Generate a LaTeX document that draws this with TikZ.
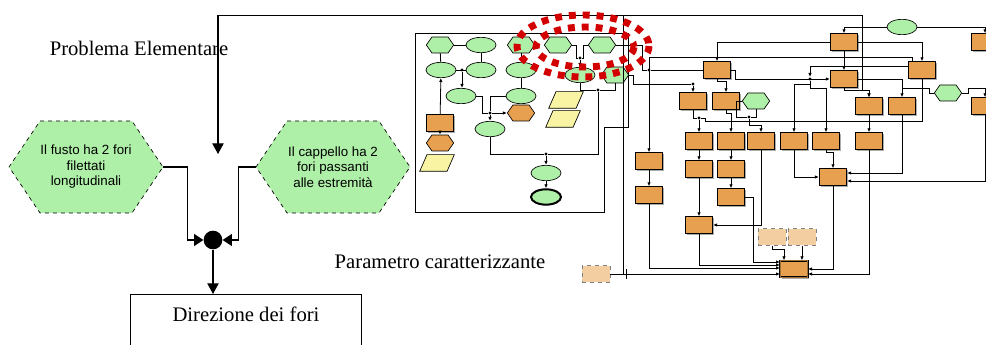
\documentclass[tikz,border=0pt]{standalone}
\usepackage{fontspec}
\setmainfont{Liberation Serif}
\newfontfamily\arialf{Liberation Sans}
\usetikzlibrary{shapes.geometric,shapes.symbols,arrows.meta,calc,shadows}
\definecolor{grnF}{RGB}{175,240,168}
\definecolor{orgF}{RGB}{230,160,80}
\definecolor{beigeF}{RGB}{242,206,160}
\definecolor{yelF}{RGB}{248,244,164}
\definecolor{redD}{RGB}{210,0,0}
\begin{document}
\begin{tikzpicture}[x=0.75pt,y=-0.75pt,
 ln/.style={draw=black,line width=0.6pt},
 ar/.style={ln,-{Latex[length=3pt,width=2.6pt]}},
 bigar/.style={line width=0.9pt,-{Triangle[length=8pt,width=8.5pt]}},
 sidear/.style={line width=0.9pt,-{Triangle[length=7pt,width=9pt]}},
 ob/.style={rectangle,draw=black,line width=0.6pt,fill=orgF,minimum width=20.5pt,minimum height=12.5pt,inner sep=0,drop shadow={shadow xshift=0.9pt,shadow yshift=-0.9pt,fill=gray!80,opacity=0.8}},
 gel/.style={ellipse,draw=black,line width=0.5pt,fill=grnF,minimum width=22.5pt,minimum height=11.5pt,inner sep=0},
 ghx/.style={signal,signal to=east and west,signal pointer angle=110,draw=black,line width=0.5pt,fill=grnF,minimum width=20.5pt,minimum height=12pt,inner sep=0},
 ohx/.style={ghx,fill=orgF},
 ypar/.style={trapezium,trapezium left angle=70,trapezium right angle=110,trapezium stretches=true,draw=black,line width=0.5pt,fill=yelF,minimum width=26pt,minimum height=12.5pt,inner sep=1pt},
 lbox/.style={rectangle,draw=gray,dashed,fill=beigeF,minimum width=21pt,minimum height=12.5pt,inner sep=0},
 jdot/.style={circle,fill=black,inner sep=0,minimum size=2.6pt},
 bighex/.style={signal,signal to=east and west,signal pointer angle=112,draw=black,dashed,line width=0.5pt,fill=grnF,minimum width=115.5pt,minimum height=69pt,inner sep=0,align=center,font=\arialf\fontsize{10}{11.6}\selectfont},
 serift/.style={font=\fontsize{15.5}{18}\selectfont,inner sep=0}
]
\useasboundingbox (0,0) rectangle (986,345);

% ---------- left part ----------
\node[serift] (pe) at (139,48) {Problema Elementare};
\node[serift] (pc) at (440,262) {Parametro caratterizzante};
\node[bighex] (hexL) at (86,167) {Il fusto ha 2 fori\\filettati\\longitudinali};
\node[bighex] (hexR) at (333,167) {Il cappello ha 2\\fori passanti\\alle estremità};
\node[circle,fill=black,minimum size=14pt,inner sep=0] (jc) at (213,240) {};
\node[draw,line width=0.7pt,anchor=north west,minimum width=173.25pt,minimum height=60pt,inner sep=0] (dir) at (130,294) {};
\node[serift] (dirT) at (246,314) {Direzione dei fori};
\draw[sidear] (hexL.east) -- ++(24,0) |- (jc.west);
\draw[sidear] (hexR.west) -- ++(-17,0) |- (jc.east);
\draw[bigar] (jc.south) -- (jc.south |- dir.north);

\coordinate (tl) at (218,15);
\coordinate (tlEnd) at (218,154);
\coordinate (tR) at (862,15);
\coordinate (tRb) at (862,90);
\coordinate (tX) at (623,15);
\coordinate (tXb) at (623,274);
\draw[bigar] (tl) -- (tlEnd);

% ---------- middle panel ----------
\draw[ln,line width=0.7pt] (415,33) -- (628,33) -- (628,127) -- (604,127) -- (604,212) -- (415,212) -- cycle;
\node[ghx] (hA) at (440,45) {};
\node[gel] (eB) at (481,45) {};
\node[ghx] (hC) at (521,45) {};
\node[ghx] (hD) at (558,45) {};
\node[ghx] (hE) at (602,45) {};
\node[gel] (eF) at (441,70) {};
\node[gel] (eG) at (481,70) {};
\node[gel] (eH) at (521,70) {};
\node[gel] (eI) at (580,75) {};
\node[ghx] (hJ) at (615,75) {};
\node[gel] (eK) at (461,96) {};
\node[gel] (eL) at (521,96) {};
\node[ypar] (pM) at (566,100) {};
\node[ypar] (pN) at (563,119) {};
\node[ob] (rO) at (440,123) {};
\node[ohx] (hP) at (521,113) {};
\node[gel] (eQ) at (490,129) {};
\node[ohx] (hR) at (440,143) {};
\node[ypar] (pS) at (437,163) {};
\node[gel] (eT) at (546,173) {};
\node[gel,line width=1.5pt] (eU) at (546,197) {};
\node[jdot] (jFG) at (462,70) {};
\node[jdot] (jKL) at (490,113) {};
\node[jdot] (jQT) at (546,154) {};
\node[jdot] (jDE) at (580,58) {};
\node[jdot] (jIJ) at (598,90) {};
\draw[ln] (hA) -- (eB);
\draw[ln] (hA) -- (eF);
\draw[ln] (eB) -- (eG);
\draw[ln] (eF) -- (eG);
\draw[ar] (jFG) -- (jFG |- eK.north);
\draw[ln] (hC) -- (eH);
\draw[ln] (eH) -- (eL);
\draw[ar] (rO) -- (eF);
\draw[ar] (rO) -- (hR);
\draw[ln] (eK.east) -- ++(6,0) |- (jKL);
\draw[ln] (eL.west) -| (jKL);
\draw[ar] (jKL) -- (hP.west);
\draw[ar] (jKL) -- (eQ.north);
\draw[ln] (eQ.south) |- (jQT);
\draw[ar] (jQT) -- (eT.north);
\draw[ar] (eT) -- (eU);
\draw[ln] (hD.east) -- ++(4,0) |- (jDE);
\draw[ln] (hE.west) -- ++(-5,0) |- (jDE);
\draw[ar] (jDE) -- (eI.north);
\draw[ln] (eI.south) |- (jIJ);
\draw[ln] (hJ.south) |- (jIJ);
\draw[ln] (jIJ) |- (jQT);

% ---------- right part ----------
\node[gel] (eTop) at (902,27) {};
\node[ob] (r1) at (844,42) {};
\node[ob] (r2) at (985,42) {};
\node[ob] (r3) at (717,70) {};
\node[ob] (r4) at (922,70) {};
\node[ob] (r5) at (844,79) {};
\node[ob] (r6) at (693,101) {};
\node[ob] (r7) at (726,101) {};
\node[ghx] (hV) at (756,101) {};
\node[ob] (r8) at (869,106) {};
\node[ob] (r9) at (902,106) {};
\node[ghx] (hW) at (948,93) {};
\node[ob] (r10) at (985,106) {};
\node[ob] (r11) at (699,141) {};
\node[ob] (r12) at (731,141) {};
\node[ob] (r13) at (761,141) {};
\node[ob] (r14) at (794,141) {};
\node[ob] (r15) at (826,141) {};
\node[ob] (r16) at (869,141) {};
\node[ob] (r17) at (649,161) {};
\node[ob] (r18) at (699,169) {};
\node[ob] (r19) at (731,169) {};
\node[ob] (r20) at (833,177) {};
\node[ob] (r21) at (649,195) {};
\node[ob] (r22) at (731,197) {};
\node[ob] (r23) at (699,225) {};
\node[lbox] (d1) at (772,237) {};
\node[lbox] (d2) at (802,237) {};
\node[lbox] (d3) at (596,274) {};
\node[ob,double=orgF!70!black,double distance=0.7pt,line width=0.5pt] (fin) at (794,269) {};
\node[jdot] (jR3) at (649,70) {};
\node[jdot] (jR6) at (693,84) {};
\node[jdot] (jR5) at (810,79) {};
\node[jdot] (jR6b) at (699,118) {};
\node[jdot] (jV) at (749,117) {};

\draw[ar] (tl) -- (tR) -- (tRb) -| (r8.north);
\draw[ln] (tX) -- (tXb);
\draw[ln] ($(tXb)+(3,-5)$) -- ($(tXb)+(3,5)$);
\draw[ar] (eTop.west) -| (r1.north);
\draw[ar] (eTop.east) -| (r2.north);
\draw[ar] (r1.west) -| (r3.north);
\draw[ar] (r1.east) -| (r4.north);
\draw[ar] (r1) -- (r5);
\draw[ar] ($(r4.north)+(-10,0)$) -- ++(0,-4) -| (r17.north);
\draw[ln] (hE.east) -- ++(26,0) |- (jR3);
\draw[ln] (r3.west) -- (jR3);
\draw[ln] (hJ.east) -- ++(4,0) |- (jR6);
\draw[ar] (jR6) -- (r6.north);
\draw[ar] (r3.east) -- ++(4,0) |- (r5.west);
\draw[ar] ($(r4.west)+(0,-4)$) -| (jR5);
\draw[ar] (jR5) -- ++(0,9) -| (r15.north);
\draw[ar] ($(jR5)+(0,5)$) -| (r14.north);
\draw[ar] (r5.east) -| (r9.north);
\draw[ar] (r5.south) -- ++(0,3) -| (r8.north);
\draw[ln] (hW.west) -- ++(-5,0) |- ($(r9.north)+(0,-9)$);
\draw[ar] (hW.east) -- ++(6,0) -- ++(0,-5) -| (r10.north);
\draw[ln] (r4.south) |- ($(jR6b)+(6,3)$) |- (jR6b);
\draw[ln] (r6.south) |- (jR6b);
\draw[ar] (jR6b) -- (r11.north);
\draw[ar] (r3.south) -- ++(0,3) -| (r7.north);
\draw[ar] (r7.south) -- ++(0,4) -| (r12.north);
\draw[ln] (hV.west) -- ++(-6,0) |- (jV);
\draw[ln] (hV.south) |- (jV);
\draw[ar] (jV) -- ++(0,8) -| (r13.north);
\draw[ar] (r8) -- (r16);
\draw[ar] (r9.south) |- ($(r20.east)+(0,-4)$);
\draw[ar] (r10.south) |- ($(r20.east)+(0,4)$);
\draw[ar] (r16.south) |- ($(fin.east)+(0,5)$);
\draw[ar] (r20.south) |- (fin.east);
\draw[ar] (r11) -- (r18);
\draw[ar] (r18) -- (r23);
\draw[ar] (r12) -- (r19);
\draw[ar] (r19) -- (r22);
\draw[ar] (r13.south) |- (r23.east);
\draw[ar] (r14.south) |- (r20.west);
\draw[ar] (r15.south) -- ++(0,3) -| (r20.north);
\draw[ar] (r17) -- (r21);
\draw[ar] (r21.south) |- ($(fin.west)+(0,-1)$);
\draw[ar] (r23.south) |- ($(fin.west)+(0,-4)$);
\draw[ar] (r22.east) -- ++(8,0) |- ($(fin.west)+(0,-7)$);
\draw[ar] (d1.south) -- ++(0,4) -| ($(fin.north)+(-10,0)$);
\draw[ar] (d2.south) -- (d2.south |- fin.north);
\draw[ar] (d3.east) -- (d3.east -| fin.west);

% ---------- red highlight ----------
\draw[redD,line width=5.2pt,dash pattern=on 5.2pt off 5.2pt] (583,46) ellipse [x radius=66,y radius=31];
\draw[redD,line width=5.2pt,dash pattern=on 5.2pt off 5.2pt] (585,47) ellipse [x radius=49,y radius=20];
\end{tikzpicture}
\end{document}
